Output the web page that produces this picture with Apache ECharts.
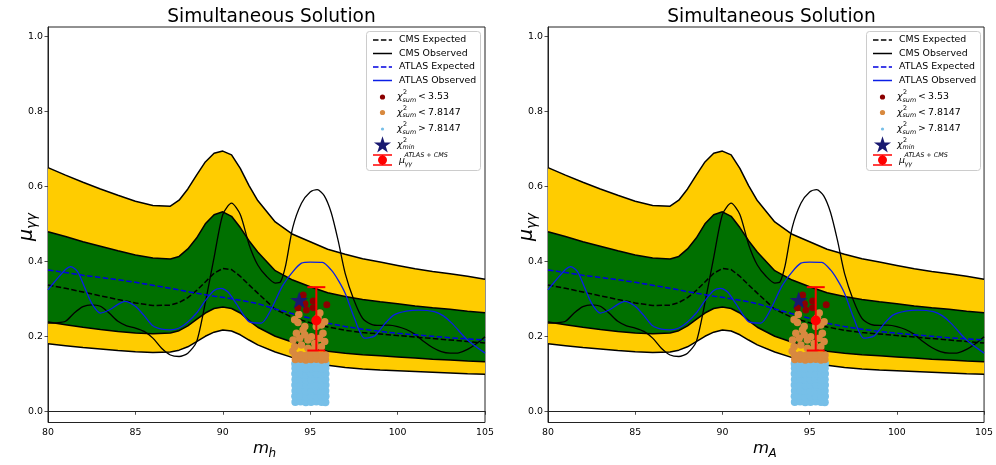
<!DOCTYPE html>
<html>
<head>
<meta charset="utf-8">
<script src="https://cdn.jsdelivr.net/npm/echarts@6/dist/echarts.min.js"></script>
<style>
html, body { margin: 0; padding: 0; background: #fff; }
#chart { width: 996px; height: 465px; }
</style>
</head>
<body>
<div id="chart"></div>
<script>
// ---- data ----
var xTicks = [80, 85, 90, 95, 100, 105];
var yTicks = [0, 0.2, 0.4, 0.6, 0.8, 1.0];
var panelTitles = ['Simultaneous Solution', 'Simultaneous Solution'];
var panelXNames = ['h', 'A'];

// expected-limit bands (CMS), common mass grid
var bandX = [80, 81, 82, 83, 84, 85, 86, 87, 87.5, 88, 88.5, 89, 89.5, 90, 90.5, 91, 91.5, 92, 93, 94, 95, 96, 97, 98, 99, 100, 101, 102, 103, 104, 105];
var up2 = [0.650, 0.630, 0.611, 0.593, 0.576, 0.560, 0.549, 0.547, 0.563, 0.593, 0.630, 0.665, 0.688, 0.694, 0.684, 0.648, 0.602, 0.562, 0.505, 0.472, 0.452, 0.432, 0.419, 0.407, 0.398, 0.389, 0.380, 0.373, 0.367, 0.360, 0.352];
var up1 = [0.479, 0.466, 0.452, 0.440, 0.428, 0.417, 0.409, 0.406, 0.413, 0.433, 0.462, 0.500, 0.524, 0.532, 0.520, 0.490, 0.455, 0.425, 0.375, 0.350, 0.332, 0.316, 0.306, 0.298, 0.292, 0.287, 0.281, 0.276, 0.272, 0.267, 0.263];
var dn1 = [0.238, 0.231, 0.224, 0.218, 0.213, 0.209, 0.207, 0.209, 0.215, 0.228, 0.245, 0.262, 0.274, 0.278, 0.274, 0.262, 0.242, 0.224, 0.200, 0.184, 0.170, 0.160, 0.155, 0.151, 0.148, 0.145, 0.142, 0.139, 0.137, 0.134, 0.132];
var dn2 = [0.180, 0.175, 0.170, 0.166, 0.162, 0.159, 0.157, 0.158, 0.163, 0.172, 0.186, 0.200, 0.211, 0.217, 0.214, 0.204, 0.190, 0.177, 0.158, 0.143, 0.132, 0.123, 0.117, 0.113, 0.110, 0.108, 0.106, 0.104, 0.102, 0.100, 0.099];
var cmsExp = [0.337, 0.328, 0.318, 0.308, 0.298, 0.289, 0.282, 0.283, 0.290, 0.303, 0.322, 0.345, 0.368, 0.381, 0.378, 0.360, 0.337, 0.315, 0.272, 0.250, 0.236, 0.225, 0.216, 0.210, 0.206, 0.202, 0.198, 0.194, 0.190, 0.186, 0.182];
var atlasExp = [0.377, 0.370, 0.363, 0.357, 0.351, 0.344, 0.336, 0.328, 0.324, 0.319, 0.315, 0.311, 0.307, 0.304, 0.300, 0.296, 0.292, 0.287, 0.273, 0.260, 0.248, 0.235, 0.226, 0.219, 0.213, 0.208, 0.204, 0.200, 0.196, 0.193, 0.190];

// observed limits
var cmsObsX = [80, 80.5, 81, 81.5, 82, 82.5, 83, 83.5, 84, 84.5, 85, 85.5, 86, 86.5, 87, 87.5, 88, 88.5, 89, 89.5, 90, 90.5, 91, 91.5, 92, 92.5, 93, 93.3, 93.6, 94, 94.5, 95, 95.4, 95.8, 96.2, 96.6, 97, 97.5, 98, 98.5, 99, 99.5, 100, 100.5, 101, 101.5, 102, 102.5, 103, 103.5, 104, 104.5, 105];
var cmsObsY = [0.235, 0.236, 0.240, 0.262, 0.279, 0.284, 0.280, 0.262, 0.240, 0.228, 0.222, 0.213, 0.195, 0.168, 0.150, 0.146, 0.155, 0.185, 0.290, 0.410, 0.525, 0.555, 0.525, 0.445, 0.390, 0.360, 0.342, 0.345, 0.390, 0.490, 0.555, 0.585, 0.591, 0.575, 0.530, 0.455, 0.368, 0.297, 0.248, 0.232, 0.229, 0.230, 0.226, 0.218, 0.205, 0.186, 0.170, 0.159, 0.155, 0.156, 0.165, 0.180, 0.199];
var atlasObsX = [80, 80.5, 81, 81.3, 81.7, 82.1, 82.5, 83, 83.5, 84, 84.4, 85, 85.5, 86, 86.5, 87, 87.5, 88, 88.5, 89, 89.5, 89.9, 90.3, 90.8, 91.5, 92.2, 92.7, 93.4, 94, 94.5, 95, 95.7, 96.2, 96.6, 97, 97.5, 98.1, 98.7, 99.3, 99.8, 100.5, 101.2, 102.1, 102.6, 103.1, 104, 105];
var atlasObsY = [0.324, 0.352, 0.378, 0.386, 0.372, 0.330, 0.288, 0.262, 0.270, 0.285, 0.293, 0.280, 0.255, 0.228, 0.219, 0.217, 0.222, 0.238, 0.262, 0.295, 0.322, 0.328, 0.318, 0.285, 0.239, 0.235, 0.266, 0.333, 0.372, 0.395, 0.398, 0.397, 0.377, 0.350, 0.315, 0.252, 0.195, 0.201, 0.235, 0.257, 0.267, 0.270, 0.266, 0.255, 0.235, 0.190, 0.155];

// chi2 scan points (mass, mu)
var chiLow = [[94.6, 0.310], [94.3, 0.276], [94.7, 0.287], [95.17, 0.294], [95.17, 0.276], [95.95, 0.284], [94.78, 0.270], [94.48, 0.292]];
var chiMid = [
  [94.15, 0.138], [94.45, 0.139], [94.75, 0.137], [95.05, 0.138], [95.35, 0.139], [95.65, 0.137], [95.87, 0.138],
  [94.14, 0.150], [94.46, 0.151], [94.76, 0.149], [95.04, 0.150], [95.36, 0.151], [95.66, 0.149], [95.88, 0.150],
  [94.11, 0.244], [94.30, 0.237], [94.59, 0.217], [94.69, 0.204], [94.87, 0.190], [95.07, 0.199], [95.26, 0.181],
  [95.54, 0.195], [95.73, 0.208], [95.83, 0.186], [95.64, 0.172], [94.02, 0.190], [94.11, 0.172], [94.50, 0.177],
  [94.87, 0.168], [95.26, 0.168], [94.40, 0.195], [94.69, 0.226], [94.21, 0.208], [95.35, 0.226], [95.64, 0.230],
  [95.83, 0.239], [94.35, 0.258], [95.55, 0.262], [95.45, 0.250], [95.00, 0.163], [94.00, 0.160]
];
var chiHigh = [
  [94.15, 0.025], [94.45, 0.026], [94.75, 0.024], [95.05, 0.025], [95.35, 0.026], [95.65, 0.025], [95.87, 0.024],
  [94.14, 0.040], [94.46, 0.041], [94.76, 0.039], [95.04, 0.040], [95.36, 0.041], [95.66, 0.039], [95.88, 0.040],
  [94.15, 0.055], [94.45, 0.056], [94.75, 0.054], [95.05, 0.055], [95.35, 0.056], [95.65, 0.054], [95.87, 0.055],
  [94.14, 0.070], [94.46, 0.071], [94.76, 0.069], [95.04, 0.070], [95.36, 0.071], [95.66, 0.069], [95.88, 0.070],
  [94.15, 0.085], [94.45, 0.086], [94.75, 0.084], [95.05, 0.085], [95.35, 0.086], [95.65, 0.084], [95.87, 0.085],
  [94.14, 0.100], [94.46, 0.101], [94.76, 0.099], [95.04, 0.100], [95.36, 0.101], [95.66, 0.099], [95.88, 0.100],
  [94.15, 0.115], [94.45, 0.116], [94.75, 0.114], [95.05, 0.115], [95.35, 0.116], [95.65, 0.114], [95.87, 0.115],
  [94.14, 0.127], [94.46, 0.128], [94.76, 0.126], [95.04, 0.127], [95.36, 0.128], [95.66, 0.126], [95.88, 0.127]
];
var chiMin = [[94.37, 0.297]];
// combined ATLAS+CMS signal strength: mass, mu, low, high
var muComb = [95.35, 0.242, 0.162, 0.331];

// ---- styling ----
var FONT = 'DejaVu Sans';
var YELLOW = '#ffcc00', GREEN = '#007000';
var DARKRED = '#8b0000', ORANGE = '#d8893f', LIGHTBLUE = '#76bfe8', NAVY = '#191970';
// five-point star outline in a 100x100 box
var STAR_PTS = [[50, 0], [61.2, 34.5], [97.6, 34.5], [68.2, 55.9], [79.4, 90.5], [50, 69.1], [20.6, 90.5], [31.8, 55.9], [2.4, 34.5], [38.8, 34.5]];
var STAR = 'M' + STAR_PTS.map(function (p) { return p[0] + ',' + p[1]; }).join(' L') + ' Z';
var DASH = [5.5, 2.4];
var gridLefts = [48, 548];

function zip(xs, ys) {
  return xs.map(function (x, i) { return [x, ys[i]]; });
}

function bandSeries(lo, hi, color, gi) {
  return {
    type: 'custom', xAxisIndex: gi, yAxisIndex: gi, silent: true, z: 1,
    data: bandX.map(function (x, i) { return [x, lo[i], hi[i]]; }),
    encode: { x: 0, y: [1, 2] },
    renderItem: function (params, api) {
      if (params.dataIndex !== 0) return null;
      var pts = [];
      for (var i = 0; i < bandX.length; i++) pts.push(api.coord([bandX[i], hi[i]]));
      for (var j = bandX.length - 1; j >= 0; j--) pts.push(api.coord([bandX[j], lo[j]]));
      return { type: 'polygon', shape: { points: pts }, style: { fill: color, stroke: null } };
    }
  };
}

function lineSeries(data, color, width, dash, gi, z, smooth) {
  return {
    type: 'line', xAxisIndex: gi, yAxisIndex: gi, data: data, showSymbol: false, silent: true,
    smooth: smooth || false, z: z,
    lineStyle: { color: color, width: width, type: dash ? DASH : 'solid' }
  };
}

function scatterSeries(data, color, size, gi, z, symbol) {
  return {
    type: 'scatter', xAxisIndex: gi, yAxisIndex: gi, data: data, silent: true, z: z,
    symbol: symbol || 'circle', symbolSize: size,
    itemStyle: { color: color, opacity: 1 }
  };
}

function panelSeries(gi) {
  var s = [];
  s.push(bandSeries(dn2, up2, YELLOW, gi));
  s.push(bandSeries(dn1, up1, GREEN, gi));
  [up2, up1, dn1, dn2].forEach(function (arr) {
    s.push(lineSeries(zip(bandX, arr), '#000', 1.5, false, gi, 2));
  });
  s.push(lineSeries(zip(bandX, cmsExp), '#000', 1.5, true, gi, 3));
  s.push(lineSeries(zip(cmsObsX, cmsObsY), '#000', 1.3, false, gi, 3, 0.25));
  s.push(lineSeries(zip(bandX, atlasExp), '#0000e0', 1.5, true, gi, 3));
  s.push(lineSeries(zip(atlasObsX, atlasObsY), '#0a1ee6', 1.3, false, gi, 3, 0.25));
  s.push(scatterSeries(chiHigh, LIGHTBLUE, 8, gi, 4));
  s.push(scatterSeries(chiMid, ORANGE, 7.5, gi, 5));
  s.push(scatterSeries(chiLow, DARKRED, 7, gi, 6));
  s.push(scatterSeries(chiMin, NAVY, [18, 17], gi, 7, 'path://' + STAR));
  s.push({
    type: 'custom', xAxisIndex: gi, yAxisIndex: gi, silent: true, z: 8,
    data: [muComb],
    encode: { x: 0, y: [1, 2, 3] },
    renderItem: function (params, api) {
      var top = api.coord([api.value(0), api.value(3)]);
      var bot = api.coord([api.value(0), api.value(2)]);
      var st = { stroke: '#ff0000', lineWidth: 2 };
      return {
        type: 'group', children: [
          { type: 'line', shape: { x1: top[0], y1: top[1], x2: bot[0], y2: bot[1] }, style: st },
          { type: 'line', shape: { x1: top[0] - 9, y1: top[1], x2: top[0] + 9, y2: top[1] }, style: st },
          { type: 'line', shape: { x1: bot[0] - 9, y1: bot[1], x2: bot[0] + 9, y2: bot[1] }, style: st }
        ]
      };
    }
  });
  s.push(scatterSeries([[muComb[0], muComb[1]]], '#ff0000', 10, gi, 9));
  return s;
}

// text helper for the graphic layer
function txt(x, y, text, size, italic, align) {
  return {
    type: 'text', x: x, y: y, silent: true,
    style: {
      text: text, fontSize: size, fontFamily: FONT, fontStyle: italic ? 'italic' : 'normal',
      fill: '#000', align: align || 'left', verticalAlign: 'middle'
    }
  };
}

function legendGraphic(ox) {
  var hx1 = ox + 373, hx2 = ox + 392, mx = ox + 382.5, tx = ox + 399;
  var rows = [40, 53.5, 67, 80.5, 97, 112.5, 129, 144.5, 160];
  var c = [];
  c.push({
    type: 'rect', silent: true, shape: { x: ox + 366.5, y: 31.5, width: 114, height: 139, r: 3 },
    style: { fill: 'rgba(255,255,255,0.8)', stroke: '#cccccc', lineWidth: 1 }
  });
  var lines = [['CMS Expected', '#000', true], ['CMS Observed', '#000', false], ['ATLAS Expected', '#0000e0', true], ['ATLAS Observed', '#0a1ee6', false]];
  lines.forEach(function (l, i) {
    c.push({ type: 'line', silent: true, shape: { x1: hx1, y1: rows[i], x2: hx2, y2: rows[i] }, style: { stroke: l[1], lineWidth: 1.5, lineDash: l[2] ? DASH : null } });
    c.push(txt(tx, rows[i], l[0], 9.4));
  });
  var chis = [[DARKRED, 2.6, '<', '3.53'], [ORANGE, 2.6, '<', '7.8147'], [LIGHTBLUE, 1.6, '>', '7.8147']];
  chis.forEach(function (ch, k) {
    var y = rows[4 + k];
    c.push({ type: 'circle', silent: true, shape: { cx: mx, cy: y, r: ch[1] }, style: { fill: ch[0] } });
    c.push(txt(tx - 2, y, 'χ', 9.4, true));
    c.push(txt(tx + 4, y - 4.5, '2', 6.4));
    c.push(txt(tx + 3.5, y + 3, 'sum', 6.4, true));
    c.push(txt(tx + 19, y, ch[2], 9.4));
    c.push(txt(tx + 29, y, ch[3], 9.4));
  });
  var sy = rows[7];
  c.push({
    type: 'polygon', silent: true,
    shape: { points: STAR_PTS.map(function (p) { return [mx - 9 + p[0] * 0.18, sy - 8.2 + p[1] * 0.18]; }) },
    style: { fill: NAVY }
  });
  c.push(txt(tx - 2, sy, 'χ', 9.4, true));
  c.push(txt(tx + 4, sy - 4.5, '2', 6.4));
  c.push(txt(tx + 3.5, sy + 3, 'min', 6.4, true));
  var ey = rows[8];
  c.push({ type: 'line', silent: true, shape: { x1: hx1, y1: ey - 5, x2: hx2, y2: ey - 5 }, style: { stroke: '#ff0000', lineWidth: 1.5 } });
  c.push({ type: 'line', silent: true, shape: { x1: hx1, y1: ey + 5, x2: hx2, y2: ey + 5 }, style: { stroke: '#ff0000', lineWidth: 1.5 } });
  c.push({ type: 'line', silent: true, shape: { x1: mx, y1: ey - 5, x2: mx, y2: ey + 5 }, style: { stroke: '#ff0000', lineWidth: 1.5 } });
  c.push({ type: 'circle', silent: true, shape: { cx: mx, cy: ey, r: 4.5 }, style: { fill: '#ff0000' } });
  c.push(txt(tx, ey + 1, 'μ', 9.4, true));
  c.push(txt(tx + 5.5, ey - 4.5, 'ATLAS + CMS', 6.4, true));
  c.push(txt(tx + 5.5, ey + 4, 'γγ', 6.4, true));
  return c;
}

function axisNameGraphic(ox, sub) {
  var c = [];
  // x label m_sub
  c.push(txt(ox + 269, 449, 'm', 16.5, true, 'right'));
  c.push(txt(ox + 268.5, 454, sub, 12, true));
  // y label mu_gammagamma, rotated
  c.push({
    type: 'group', x: ox + 27, y: 228, rotation: Math.PI / 2, silent: true,
    children: [
      txt(-1, 0, 'μ', 19, true, 'right'),
      txt(-1, 5.5, 'γγ', 13.5, true)
    ]
  });
  return c;
}

var grids = [], xAxes = [], yAxes = [], series = [], titles = [], graphics = [];
gridLefts.forEach(function (gl, gi) {
  grids.push({ left: gl, top: 27, width: 437, height: 395.5, show: true, borderColor: '#222', borderWidth: 1, backgroundColor: 'transparent' });
  xAxes.push({
    type: 'value', gridIndex: gi, min: xTicks[0], max: xTicks[xTicks.length - 1], interval: 5,
    axisLine: { show: true, lineStyle: { color: '#222', width: 1 } },
    axisTick: { show: true, inside: false, length: 3.5, lineStyle: { color: '#222', width: 0.8 } },
    axisLabel: { color: '#000', fontSize: 9.4, fontFamily: FONT, margin: 6 },
    splitLine: { show: false }
  });
  yAxes.push({
    type: 'value', gridIndex: gi, min: -0.03, max: 1.025,
    axisLine: { show: true, lineStyle: { color: '#222', width: 1 } },
    axisTick: { show: true, inside: false, length: 3.5, lineStyle: { color: '#222', width: 0.8 }, customValues: yTicks },
    axisLabel: { color: '#000', fontSize: 9.4, fontFamily: FONT, margin: 5, customValues: yTicks, formatter: function (v) { return v.toFixed(1); } },
    splitLine: { show: false }
  });
  titles.push({
    text: panelTitles[gi], left: gl + 218.5, top: 3, textAlign: 'center',
    textStyle: { fontFamily: FONT, fontSize: 18.6, fontWeight: 'normal', color: '#000' }
  });
  series = series.concat(panelSeries(gi));
  graphics = graphics.concat(legendGraphic(gl - 48), axisNameGraphic(gl - 48, panelXNames[gi]));
});

var chart = echarts.init(document.getElementById('chart'), null, { renderer: 'canvas' });
chart.setOption({
  animation: false,
  backgroundColor: '#fff',
  title: titles,
  grid: grids,
  xAxis: xAxes,
  yAxis: yAxes,
  series: series,
  graphic: { elements: graphics }
});
</script>
</body>
</html>
